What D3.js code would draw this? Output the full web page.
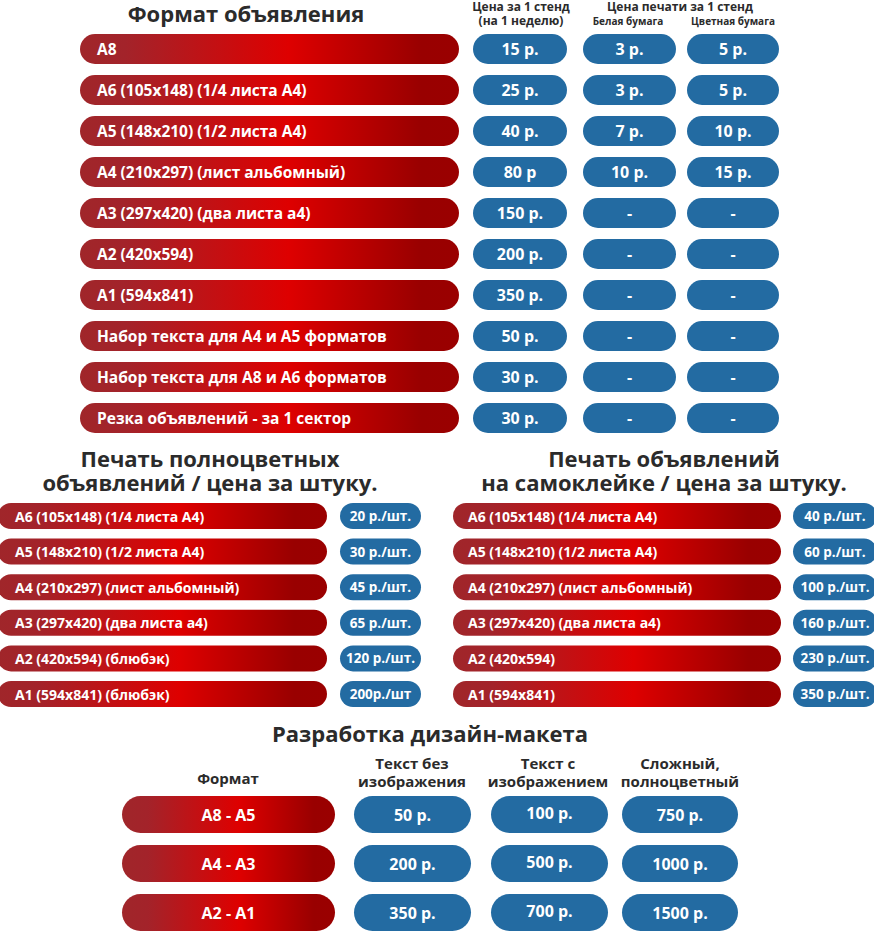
<!DOCTYPE html>
<html><head><meta charset="utf-8">
<script src="https://cdn.jsdelivr.net/npm/d3@7"></script>
<style>
html,body{margin:0;padding:0;background:#fff;}
svg text{font-family:"Open Sans","Noto Sans",sans-serif;font-weight:700;}
</style></head>
<body>
<svg id="c" width="874" height="931"></svg>
<script>
// ---- Data ----
const adFormats = ["А8","А6 (105х148) (1/4 листа А4)","А5 (148х210) (1/2 листа А4)","А4 (210х297) (лист альбомный)","А3 (297х420) (два листа а4)","А2 (420х594)","А1 (594х841)","Набор текста для А4 и А5 форматов","Набор текста для А8 и А6 форматов","Резка объявлений - за 1 сектор"];
const weekPrice = ["15 р.","25 р.","40 р.","80 р","150 р.","200 р.","350 р.","50 р.","30 р.","30 р."];
const whitePrice = ["3 р.","3 р.","7 р.","10 р.","-","-","-","-","-","-"];
const colorPrice = ["5 р.","5 р.","10 р.","15 р.","-","-","-","-","-","-"];

const fullColorFormats = ["А6 (105х148) (1/4 листа А4)","А5 (148х210) (1/2 листа А4)","А4 (210х297) (лист альбомный)","А3 (297х420) (два листа а4)","А2 (420х594) (блюбэк)","А1 (594х841) (блюбэк)"];
const fullColorPrices = ["20 р./шт.","30 р./шт.","45 р./шт.","65 р./шт.","120 р./шт.","200р./шт"];

const stickerFormats = ["А6 (105х148) (1/4 листа А4)","А5 (148х210) (1/2 листа А4)","А4 (210х297) (лист альбомный)","А3 (297х420) (два листа а4)","А2 (420х594)","А1 (594х841)"];
const stickerPrices = ["40 р./шт.","60 р./шт.","100 р./шт.","160 р./шт.","230 р./шт.","350 р./шт."];

const designFormats = ["А8 - А5","А4 - А3","А2 - А1"];
const designNoImage = ["50 р.","200 р.","350 р."];
const designWithImage = ["100 р.","500 р.","700 р."];
const designComplex = ["750 р.","1000 р.","1500 р."];

// ---- Drawing ----
const svg = d3.select("#c");
const BLUE = "#236ba2", DARK = "#2b2b2b";
const defs = svg.append("defs");
const g = defs.append("linearGradient").attr("id","red").attr("x1","0").attr("x2","1").attr("y1","0").attr("y2","0");
[[0,"#a0262a"],[0.12,"#a3232a"],[0.55,"#de0000"],[0.9,"#990000"],[1,"#9a0000"]].forEach(([o,c])=>g.append("stop").attr("offset",o).attr("stop-color",c));

function pill(x, y, w, h, fill){
  svg.append("rect").attr("x",x).attr("y",y).attr("width",w).attr("height",h)
    .attr("rx",h/2).attr("ry",h/2).attr("fill",fill);
}
function txt(x, y, s, size, opts={}){
  return svg.append("text").attr("x",x).attr("y",y).attr("font-size",size)
    .attr("fill",opts.fill||"#fff").attr("text-anchor",opts.anchor||"start")
    .attr("dominant-baseline","central").text(s);
}
// band scale with a given row step and pill height
function rows(n, start, step, h){
  const p = 1 - h/step;
  return d3.scaleBand().domain(d3.range(n)).range([start, start + step*(n - p)]).paddingInner(p).paddingOuter(0);
}

// Section 1
txt(246, 13, "Формат объявления", 22, {fill:DARK, anchor:"middle"});
txt(521, 6.5, "Цена за 1 стенд", 12, {fill:DARK, anchor:"middle"});
txt(521, 20, "(на 1 неделю)", 12, {fill:DARK, anchor:"middle"});
txt(680, 6.5, "Цена печати за 1 стенд", 12, {fill:DARK, anchor:"middle"});
txt(628, 20.5, "Белая бумага", 10, {fill:DARK, anchor:"middle"});
txt(733, 20.5, "Цветная бумага", 10, {fill:DARK, anchor:"middle"});

const y1 = rows(adFormats.length, 34, 41, 30);
const x1 = d3.scaleOrdinal().domain(["fmt","week","white","color"]).range([[80,379],[473,94],[583,93],[687,92]]);
adFormats.forEach((f,i)=>{
  const y = y1(i), h = y1.bandwidth();
  const [fx,fw] = x1("fmt"); pill(fx,y,fw,h,"url(#red)");
  txt(fx+17, y+h/2, f, 15.5);
  [["week",weekPrice],["white",whitePrice],["color",colorPrice]].forEach(([k,arr])=>{
    const [bx,bw] = x1(k); pill(bx,y,bw,h,BLUE);
    txt(bx+bw/2, y+h/2, arr[i], 16, {anchor:"middle"});
  });
});

// Section 2
txt(210, 458, "Печать полноцветных", 22, {fill:DARK, anchor:"middle"});
txt(210, 482, "объявлений / цена за штуку.", 22, {fill:DARK, anchor:"middle"});
txt(664, 458, "Печать объявлений", 22, {fill:DARK, anchor:"middle"});
txt(664, 482, "на самоклейке / цена за штуку.", 22, {fill:DARK, anchor:"middle"});

const y2 = rows(fullColorFormats.length, 503, 35.6, 26);
function section2(formats, prices, rx, rw, bx, bw, tx){
  formats.forEach((f,i)=>{
    const y = y2(i), h = y2.bandwidth();
    pill(rx,y,rw,h,"url(#red)");
    txt(rx+tx, y+h/2, f, 14);
    pill(bx,y,bw,h,BLUE);
    txt(bx+bw/2, y+h/2, prices[i], 13.5, {anchor:"middle"});
  });
}
section2(fullColorFormats, fullColorPrices, -2, 329, 340, 81, 17);
section2(stickerFormats, stickerPrices, 453, 328, 793, 84, 15);

// Section 3
txt(430, 733, "Разработка дизайн-макета", 22, {fill:DARK, anchor:"middle"});
txt(228, 778, "Формат", 15, {fill:DARK, anchor:"middle"});
txt(412, 763, "Текст без", 15, {fill:DARK, anchor:"middle"});
txt(412, 781, "изображения", 15, {fill:DARK, anchor:"middle"});
txt(548, 763, "Текст с", 15, {fill:DARK, anchor:"middle"});
txt(548, 781, "изображением", 15, {fill:DARK, anchor:"middle"});
txt(680, 763, "Сложный,", 15, {fill:DARK, anchor:"middle"});
txt(680, 781, "полноцветный", 15, {fill:DARK, anchor:"middle"});

const y3 = rows(designFormats.length, 796, 49, 37);
const cols3 = [[designFormats,122,213,"url(#red)"],[designNoImage,354,117,BLUE],[designWithImage,491,117,BLUE],[designComplex,622,116,BLUE]];
designFormats.forEach((_,i)=>{
  const y = y3(i), h = y3.bandwidth();
  cols3.forEach(([arr,x,w,fill],j)=>{
    pill(x,y,w,h,fill);
    txt(x+w/2, y+h/2 - (j===2?2:0), arr[i], 16, {anchor:"middle"});
  });
});
</script>
</body></html>
